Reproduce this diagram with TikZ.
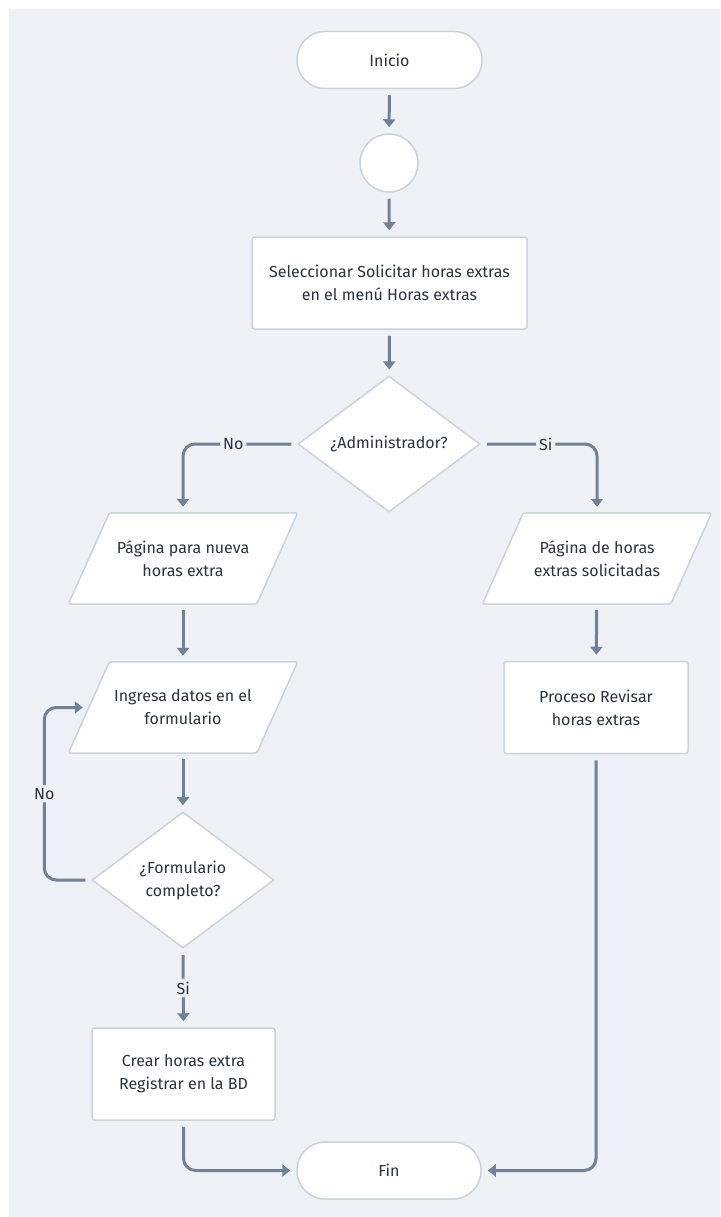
\documentclass[tikz,border=0pt]{standalone}
\usepackage{fontspec}
\setmainfont{Fira Sans}
\usetikzlibrary{arrows.meta,shapes.geometric,calc}
\definecolor{panel}{HTML}{EEF2F6}
\definecolor{edgeline}{HTML}{C9D3DD}
\definecolor{conncol}{HTML}{718196}
\definecolor{txt}{HTML}{29333E}
\begin{document}
\begin{tikzpicture}[x=1pt,y=-1pt,
  every node/.style={font=\fontsize{16}{23}\selectfont, text=txt, align=center},
  base/.style={draw=edgeline, line width=1.5pt, fill=white},
  terminal/.style={base, rectangle, rounded corners=28pt, minimum width=185pt, minimum height=57pt},
  connector/.style={base, circle, minimum size=58pt, inner sep=0pt},
  procbox/.style={base, rectangle, rounded corners=2.5pt, minimum height=92pt},
  decision/.style={base, diamond, minimum width=182pt, minimum height=136pt, inner sep=0pt},
  ioshape/.style={rectangle, minimum width=188pt, minimum height=91pt},
  conn/.style={draw=conncol, line width=3pt, rounded corners=12pt,
    shorten >=6pt, shorten <=6pt, -{Triangle[width=12pt,length=8pt]}},
  lbl/.style={fill=panel, inner sep=3pt}
]
% background panel
\fill[panel] (9,9) rectangle (720,1217);
\useasboundingbox (0,0) rectangle (720,1217);

% slanted input/output shape drawn around a named rectangle node
\newcommand{\slantbox}[1]{%
  \draw[base, rounded corners=2.5pt]
    ([xshift=20.5pt]#1.north west) -- ([xshift=20.5pt]#1.north east) --
    ([xshift=-20.5pt]#1.south east) -- ([xshift=-20.5pt]#1.south west) -- cycle;}

% nodes
\node[terminal] (inicio) at (389.5,60) {Inicio};
\node[connector] (circ) at (389,163) {};
\node[procbox, minimum width=275pt] (sel) at (389.5,283)
  {Seleccionar Solicitar horas extras\\en el menú Horas extras};
\node[decision] (adm) at (389,444) {¿Administrador?};

\node[ioshape] (p1) at (183,558.5) {};
\slantbox{p1}
\node at (p1) {Página para nueva\\horas extra};

\node[ioshape] (p2) at (183,707.5) {};
\slantbox{p2}
\node at (p2) {Ingresa datos en el\\formulario};

\node[decision] (form) at (183,880) {¿Formulario\\completo?};
\node[procbox, minimum width=183pt] (crear) at (183.5,1074)
  {Crear horas extra\\Registrar en la BD};

\node[ioshape] (p3) at (597,558.5) {};
\slantbox{p3}
\node at (p3) {Página de horas\\extras solicitadas};

\node[procbox, minimum width=184pt] (proc) at (596,707.5)
  {Proceso Revisar\\horas extras};

\node[terminal, minimum width=184pt] (fin) at (389,1170.5) {Fin};

% connectors
\draw[conn] (inicio) -- (circ);
\draw[conn] (circ) -- (sel);
\draw[conn] (sel) -- (adm);
\draw[conn] (adm.west) -| node[pos=0.28, lbl] {No} (p1.north);
\draw[conn] (adm.east) -| node[pos=0.28, lbl] {Si} (p3.north);
\draw[conn] (p1) -- (p2);
\draw[conn] (p2) -- (form);
\coordinate (loopcorner) at ($(form.west)+(-47,0)$);
\draw[conn] (form.west) -- (loopcorner) |- node[pos=0.25, lbl] {No} (p2.west);
\draw[conn] (form.south) -- node[lbl] {Si} (crear.north);
\draw[conn] (p3) -- (proc);
\draw[conn] (crear.south) |- (fin.west);
\draw[conn] (proc.south) |- (fin.east);
\end{tikzpicture}
\end{document}
